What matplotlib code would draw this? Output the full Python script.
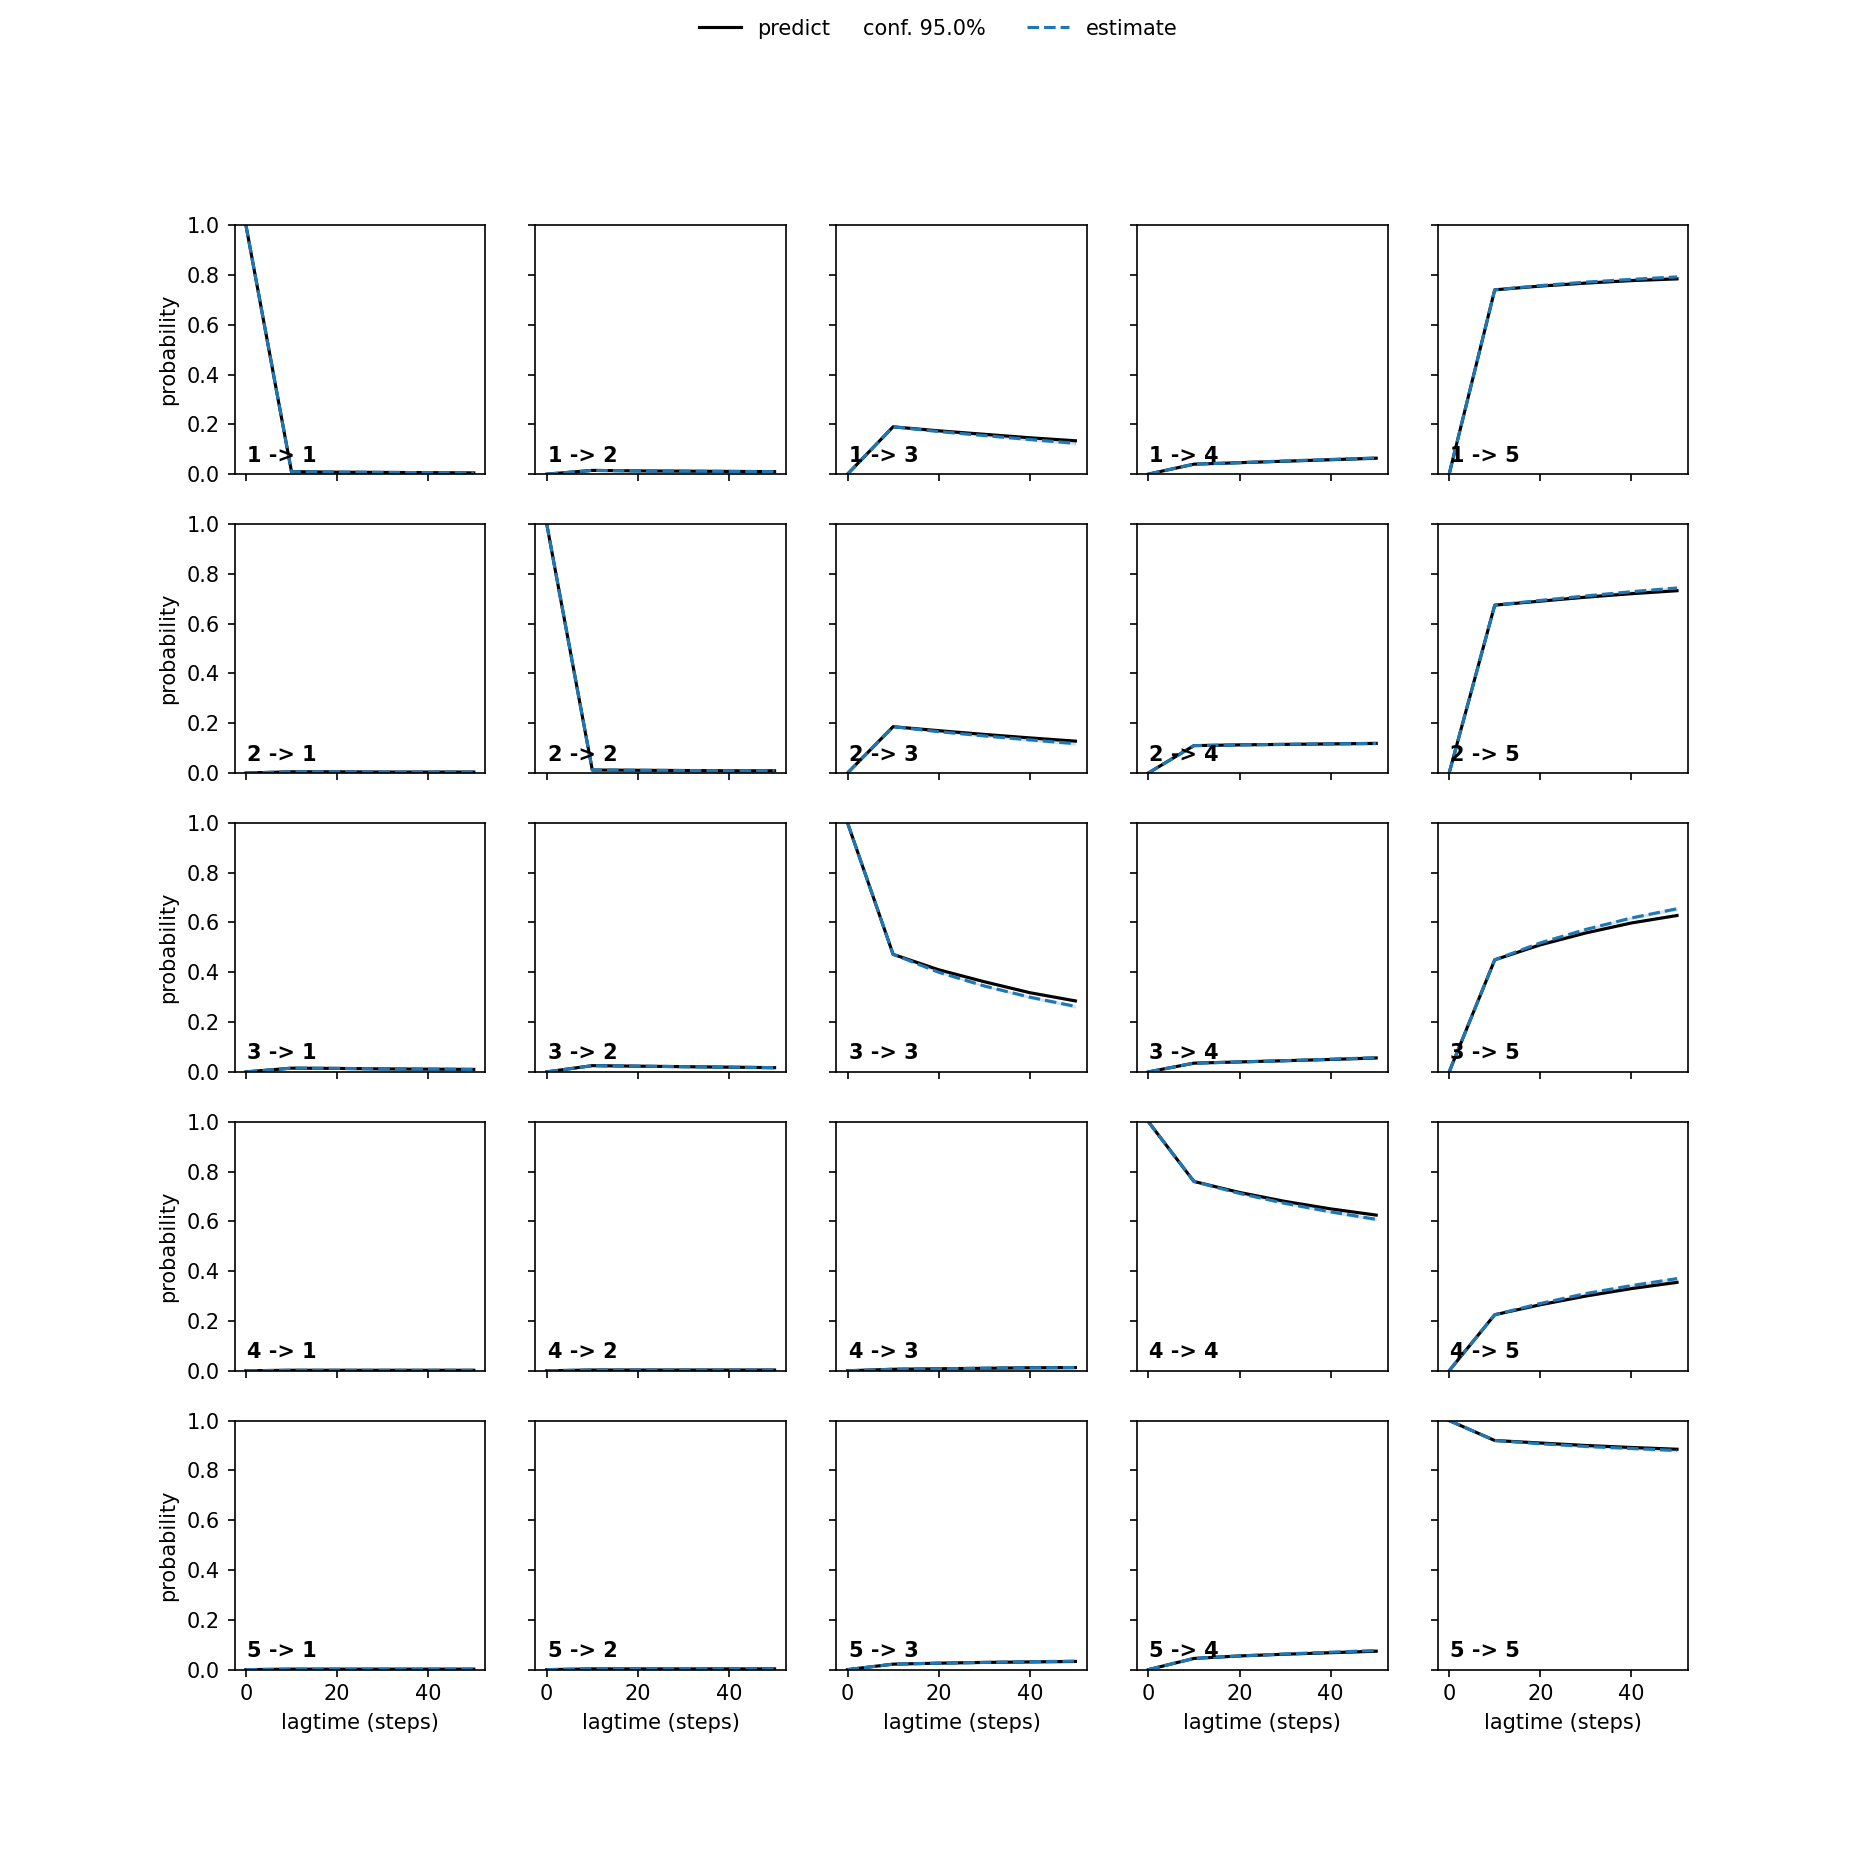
import matplotlib
matplotlib.use("Agg")
import matplotlib.pyplot as plt
from matplotlib.lines import Line2D
from matplotlib.patches import Patch
from matplotlib.legend_handler import HandlerBase
import numpy as np

lagtimes = [0, 10, 20, 30, 40, 50]
states = ["1", "2", "3", "4", "5"]

# predict[i][j]: probability i -> j at each lagtime
predict = [
    [[1.0, 0.010, 0.008, 0.007, 0.006, 0.005],
     [0.0, 0.015, 0.013, 0.012, 0.011, 0.010],
     [0.0, 0.190, 0.174, 0.160, 0.146, 0.134],
     [0.0, 0.040, 0.046, 0.052, 0.058, 0.064],
     [0.0, 0.740, 0.755, 0.767, 0.777, 0.784]],
    [[0.0, 0.005, 0.005, 0.004, 0.004, 0.004],
     [1.0, 0.012, 0.011, 0.010, 0.009, 0.009],
     [0.0, 0.186, 0.170, 0.155, 0.141, 0.128],
     [0.0, 0.110, 0.113, 0.115, 0.117, 0.119],
     [0.0, 0.674, 0.690, 0.706, 0.720, 0.732]],
    [[0.0, 0.015, 0.014, 0.012, 0.011, 0.010],
     [0.0, 0.025, 0.023, 0.021, 0.019, 0.017],
     [1.0, 0.472, 0.410, 0.362, 0.318, 0.285],
     [0.0, 0.035, 0.040, 0.045, 0.050, 0.056],
     [0.0, 0.450, 0.510, 0.558, 0.598, 0.628]],
    [[0.0, 0.002, 0.002, 0.002, 0.002, 0.002],
     [0.0, 0.003, 0.003, 0.003, 0.003, 0.003],
     [0.0, 0.006, 0.008, 0.010, 0.012, 0.013],
     [1.0, 0.760, 0.716, 0.680, 0.650, 0.625],
     [0.0, 0.225, 0.265, 0.300, 0.330, 0.355]],
    [[0.0, 0.002, 0.002, 0.002, 0.002, 0.002],
     [0.0, 0.003, 0.003, 0.003, 0.003, 0.003],
     [0.0, 0.022, 0.026, 0.029, 0.031, 0.033],
     [0.0, 0.045, 0.055, 0.062, 0.068, 0.074],
     [1.0, 0.920, 0.910, 0.900, 0.892, 0.885]],
]

estimate = [
    [[1.0, 0.010, 0.008, 0.007, 0.006, 0.005],
     [0.0, 0.015, 0.013, 0.012, 0.011, 0.010],
     [0.0, 0.190, 0.171, 0.155, 0.139, 0.124],
     [0.0, 0.040, 0.046, 0.053, 0.059, 0.065],
     [0.0, 0.740, 0.757, 0.771, 0.782, 0.792]],
    [[0.0, 0.005, 0.005, 0.004, 0.004, 0.004],
     [1.0, 0.012, 0.011, 0.010, 0.009, 0.009],
     [0.0, 0.186, 0.166, 0.149, 0.133, 0.118],
     [0.0, 0.110, 0.113, 0.115, 0.117, 0.119],
     [0.0, 0.674, 0.693, 0.711, 0.728, 0.743]],
    [[0.0, 0.015, 0.014, 0.012, 0.011, 0.010],
     [0.0, 0.025, 0.023, 0.021, 0.019, 0.017],
     [1.0, 0.472, 0.400, 0.345, 0.300, 0.263],
     [0.0, 0.035, 0.040, 0.045, 0.051, 0.057],
     [0.0, 0.450, 0.518, 0.572, 0.618, 0.655]],
    [[0.0, 0.002, 0.002, 0.002, 0.002, 0.002],
     [0.0, 0.003, 0.003, 0.003, 0.003, 0.003],
     [0.0, 0.006, 0.008, 0.010, 0.012, 0.013],
     [1.0, 0.760, 0.712, 0.672, 0.638, 0.608],
     [0.0, 0.225, 0.270, 0.310, 0.342, 0.370]],
    [[0.0, 0.002, 0.002, 0.002, 0.002, 0.002],
     [0.0, 0.003, 0.003, 0.003, 0.003, 0.003],
     [0.0, 0.022, 0.026, 0.029, 0.032, 0.034],
     [0.0, 0.045, 0.055, 0.063, 0.070, 0.077],
     [1.0, 0.920, 0.907, 0.896, 0.888, 0.880]],
]

# approximate half-widths of the 95% confidence bands (barely visible)
predict_conf = [0.0, 0.002, 0.003, 0.004, 0.004, 0.005]
estimate_conf = [0.0, 0.003, 0.004, 0.005, 0.006, 0.007]

fig, axes = plt.subplots(5, 5, sharex=True, sharey=True, figsize=(12.507, 12.507), dpi=150)
lt = np.array(lagtimes)
pc = np.array(predict_conf)
ec = np.array(estimate_conf)
for i in range(5):
    for j in range(5):
        ax = axes[i][j]
        p = np.array(predict[i][j])
        e = np.array(estimate[i][j])
        ax.fill_between(lt, p - pc, p + pc, color="black", alpha=0.1, lw=0)
        ax.fill_between(lt, e - ec, e + ec, color="C0", alpha=0.2, lw=0)
        ax.plot(lt, p, color="black", ls="-")
        ax.plot(lt, e, color="C0", ls="--")
        ax.text(0.05, 0.05, f"{states[i]} -> {states[j]}", transform=ax.transAxes,
                weight="bold")
        ax.set_ylim(0, 1)
        if j == 0:
            ax.set_ylabel("probability")
        if i == 4:
            ax.set_xlabel("lagtime (steps)")


class EmptyHandler(HandlerBase):
    def legend_artist(self, legend, orig_handle, fontsize, handlebox):
        handlebox.width = -1.24 * fontsize
        return Patch(facecolor="none", edgecolor="none")


handles = [Line2D([], [], color="black", ls="-"),
           Patch(facecolor="none", edgecolor="none"),
           Line2D([], [], color="C0", ls="--")]
labels = ["predict", "conf. 95.0%", "estimate"]
fig.legend(handles, labels, loc="upper center", ncol=3, frameon=False,
           handler_map={Patch: EmptyHandler()})

fig.savefig("out.png", dpi=150)
